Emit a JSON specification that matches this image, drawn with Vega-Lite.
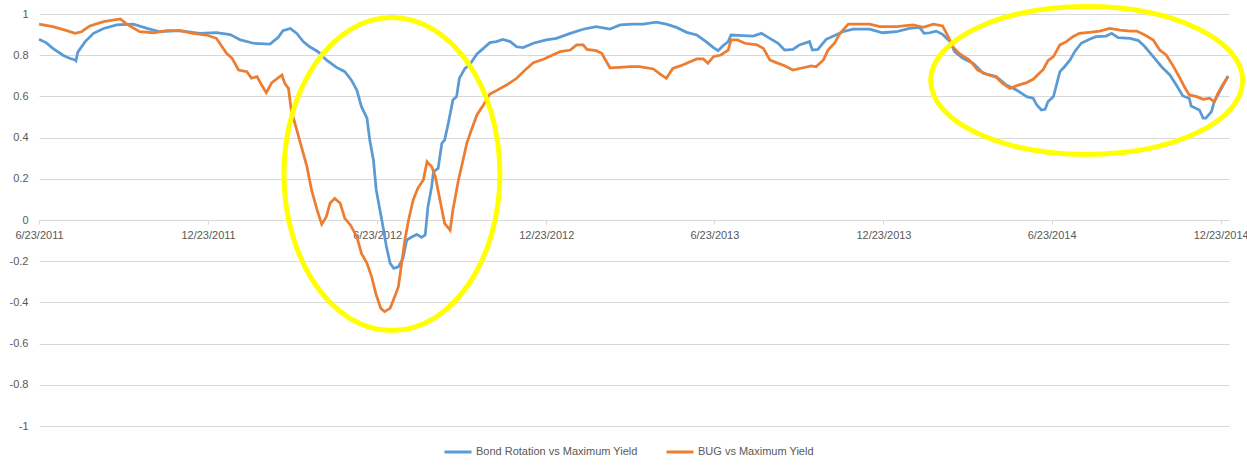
{
  "$schema": "https://vega.github.io/schema/vega-lite/v6.json",
  "autosize": {"type": "none"},
  "padding": {"left": 39, "top": 14, "right": 18, "bottom": 48},
  "width": 1190,
  "height": 412,
  "background": "white",
  "config": {
    "font": "Liberation Sans",
    "view": {"stroke": null},
    "axis": {"labelColor": "#595959", "labelFontSize": 11, "gridColor": "#D9D9D9", "domainColor": "#D9D9D9", "tickColor": "#D9D9D9", "title": null}
  },
  "datasets": {
    "bond": [
      {"date": "2011/06/23", "value": 0.877}, {"date": "2011/07/01", "value": 0.86}, {"date": "2011/07/08", "value": 0.833},
      {"date": "2011/07/19", "value": 0.80}, {"date": "2011/07/26", "value": 0.785}, {"date": "2011/08/01", "value": 0.777},
      {"date": "2011/08/02", "value": 0.773}, {"date": "2011/08/04", "value": 0.815}, {"date": "2011/08/12", "value": 0.866},
      {"date": "2011/08/21", "value": 0.906}, {"date": "2011/09/01", "value": 0.93}, {"date": "2011/09/15", "value": 0.947},
      {"date": "2011/10/03", "value": 0.951}, {"date": "2011/10/18", "value": 0.93}, {"date": "2011/11/01", "value": 0.914},
      {"date": "2011/11/22", "value": 0.919}, {"date": "2011/12/14", "value": 0.906}, {"date": "2012/01/01", "value": 0.909},
      {"date": "2012/01/16", "value": 0.90}, {"date": "2012/01/27", "value": 0.874}, {"date": "2012/02/10", "value": 0.858},
      {"date": "2012/02/28", "value": 0.854}, {"date": "2012/03/08", "value": 0.887}, {"date": "2012/03/13", "value": 0.919},
      {"date": "2012/03/21", "value": 0.93}, {"date": "2012/03/28", "value": 0.906}, {"date": "2012/04/04", "value": 0.866},
      {"date": "2012/04/11", "value": 0.841}, {"date": "2012/04/20", "value": 0.817}, {"date": "2012/04/29", "value": 0.777},
      {"date": "2012/05/10", "value": 0.741}, {"date": "2012/05/19", "value": 0.72}, {"date": "2012/05/26", "value": 0.68},
      {"date": "2012/06/01", "value": 0.631}, {"date": "2012/06/06", "value": 0.55}, {"date": "2012/06/12", "value": 0.494},
      {"date": "2012/06/15", "value": 0.388}, {"date": "2012/06/19", "value": 0.29}, {"date": "2012/06/22", "value": 0.146},
      {"date": "2012/06/26", "value": 0.049}, {"date": "2012/06/30", "value": -0.049}, {"date": "2012/07/03", "value": -0.129},
      {"date": "2012/07/07", "value": -0.21}, {"date": "2012/07/11", "value": -0.235}, {"date": "2012/07/16", "value": -0.227},
      {"date": "2012/07/21", "value": -0.186}, {"date": "2012/07/25", "value": -0.097}, {"date": "2012/07/30", "value": -0.084},
      {"date": "2012/08/05", "value": -0.07}, {"date": "2012/08/10", "value": -0.084}, {"date": "2012/08/14", "value": -0.073},
      {"date": "2012/08/17", "value": 0.065}, {"date": "2012/08/21", "value": 0.162}, {"date": "2012/08/23", "value": 0.235},
      {"date": "2012/08/28", "value": 0.25}, {"date": "2012/09/01", "value": 0.372}, {"date": "2012/09/04", "value": 0.388},
      {"date": "2012/09/08", "value": 0.469}, {"date": "2012/09/13", "value": 0.583}, {"date": "2012/09/17", "value": 0.599},
      {"date": "2012/09/20", "value": 0.688}, {"date": "2012/09/26", "value": 0.736}, {"date": "2012/10/01", "value": 0.752},
      {"date": "2012/10/09", "value": 0.806}, {"date": "2012/10/16", "value": 0.833}, {"date": "2012/10/23", "value": 0.861},
      {"date": "2012/10/30", "value": 0.866}, {"date": "2012/11/06", "value": 0.877}, {"date": "2012/11/14", "value": 0.866},
      {"date": "2012/11/21", "value": 0.841}, {"date": "2012/11/28", "value": 0.837}, {"date": "2012/12/09", "value": 0.858},
      {"date": "2012/12/23", "value": 0.874}, {"date": "2013/01/03", "value": 0.882}, {"date": "2013/01/18", "value": 0.906},
      {"date": "2013/02/01", "value": 0.926}, {"date": "2013/02/15", "value": 0.939}, {"date": "2013/03/02", "value": 0.927},
      {"date": "2013/03/13", "value": 0.947}, {"date": "2013/03/27", "value": 0.951}, {"date": "2013/04/07", "value": 0.951},
      {"date": "2013/04/21", "value": 0.96}, {"date": "2013/05/02", "value": 0.951}, {"date": "2013/05/13", "value": 0.935},
      {"date": "2013/05/24", "value": 0.911}, {"date": "2013/06/04", "value": 0.898}, {"date": "2013/06/14", "value": 0.866},
      {"date": "2013/06/22", "value": 0.837}, {"date": "2013/06/27", "value": 0.822}, {"date": "2013/07/02", "value": 0.845},
      {"date": "2013/07/08", "value": 0.866}, {"date": "2013/07/11", "value": 0.898}, {"date": "2013/07/24", "value": 0.895},
      {"date": "2013/08/04", "value": 0.893}, {"date": "2013/08/13", "value": 0.906}, {"date": "2013/08/22", "value": 0.882},
      {"date": "2013/08/31", "value": 0.858}, {"date": "2013/09/07", "value": 0.825}, {"date": "2013/09/16", "value": 0.828},
      {"date": "2013/09/23", "value": 0.85}, {"date": "2013/10/04", "value": 0.866}, {"date": "2013/10/07", "value": 0.825},
      {"date": "2013/10/13", "value": 0.828}, {"date": "2013/10/22", "value": 0.877}, {"date": "2013/10/30", "value": 0.893},
      {"date": "2013/11/09", "value": 0.914}, {"date": "2013/11/20", "value": 0.926}, {"date": "2013/12/08", "value": 0.926},
      {"date": "2013/12/22", "value": 0.909}, {"date": "2014/01/06", "value": 0.914}, {"date": "2014/01/20", "value": 0.93},
      {"date": "2014/01/31", "value": 0.935}, {"date": "2014/02/05", "value": 0.906}, {"date": "2014/02/11", "value": 0.909},
      {"date": "2014/02/18", "value": 0.917}, {"date": "2014/02/25", "value": 0.901}, {"date": "2014/03/05", "value": 0.866},
      {"date": "2014/03/10", "value": 0.817}, {"date": "2014/03/19", "value": 0.785}, {"date": "2014/03/30", "value": 0.761},
      {"date": "2014/04/10", "value": 0.712}, {"date": "2014/04/24", "value": 0.696}, {"date": "2014/05/05", "value": 0.655},
      {"date": "2014/05/16", "value": 0.631}, {"date": "2014/05/27", "value": 0.599}, {"date": "2014/06/03", "value": 0.591},
      {"date": "2014/06/07", "value": 0.558}, {"date": "2014/06/12", "value": 0.534}, {"date": "2014/06/16", "value": 0.537},
      {"date": "2014/06/19", "value": 0.574}, {"date": "2014/06/25", "value": 0.599}, {"date": "2014/07/02", "value": 0.72},
      {"date": "2014/07/07", "value": 0.744}, {"date": "2014/07/13", "value": 0.777}, {"date": "2014/07/18", "value": 0.817},
      {"date": "2014/07/25", "value": 0.858}, {"date": "2014/08/03", "value": 0.877}, {"date": "2014/08/10", "value": 0.89},
      {"date": "2014/08/21", "value": 0.893}, {"date": "2014/08/27", "value": 0.906}, {"date": "2014/09/03", "value": 0.885},
      {"date": "2014/09/16", "value": 0.882}, {"date": "2014/09/25", "value": 0.871}, {"date": "2014/10/02", "value": 0.841},
      {"date": "2014/10/11", "value": 0.793}, {"date": "2014/10/20", "value": 0.744}, {"date": "2014/10/29", "value": 0.704},
      {"date": "2014/11/05", "value": 0.655}, {"date": "2014/11/12", "value": 0.602}, {"date": "2014/11/19", "value": 0.591},
      {"date": "2014/11/21", "value": 0.553}, {"date": "2014/11/30", "value": 0.534}, {"date": "2014/12/04", "value": 0.494},
      {"date": "2014/12/07", "value": 0.494}, {"date": "2014/12/13", "value": 0.526}, {"date": "2014/12/16", "value": 0.574},
      {"date": "2014/12/22", "value": 0.623}, {"date": "2014/12/31", "value": 0.699}
    ],
    "bug": [
      {"date": "2011/06/23", "value": 0.951}, {"date": "2011/07/08", "value": 0.939}, {"date": "2011/07/23", "value": 0.919},
      {"date": "2011/08/01", "value": 0.906}, {"date": "2011/08/08", "value": 0.914}, {"date": "2011/08/17", "value": 0.942},
      {"date": "2011/09/01", "value": 0.963}, {"date": "2011/09/19", "value": 0.976}, {"date": "2011/09/26", "value": 0.951},
      {"date": "2011/10/10", "value": 0.914}, {"date": "2011/10/25", "value": 0.909}, {"date": "2011/11/08", "value": 0.919},
      {"date": "2011/11/22", "value": 0.919}, {"date": "2011/12/07", "value": 0.906}, {"date": "2011/12/21", "value": 0.898},
      {"date": "2012/01/01", "value": 0.882}, {"date": "2012/01/12", "value": 0.809}, {"date": "2012/01/18", "value": 0.785},
      {"date": "2012/01/25", "value": 0.728}, {"date": "2012/02/03", "value": 0.72}, {"date": "2012/02/08", "value": 0.688},
      {"date": "2012/02/14", "value": 0.696}, {"date": "2012/02/19", "value": 0.655}, {"date": "2012/02/24", "value": 0.618},
      {"date": "2012/03/01", "value": 0.667}, {"date": "2012/03/12", "value": 0.704}, {"date": "2012/03/15", "value": 0.663},
      {"date": "2012/03/19", "value": 0.639}, {"date": "2012/03/22", "value": 0.534}, {"date": "2012/03/28", "value": 0.437},
      {"date": "2012/04/02", "value": 0.356}, {"date": "2012/04/08", "value": 0.259}, {"date": "2012/04/13", "value": 0.146},
      {"date": "2012/04/19", "value": 0.049}, {"date": "2012/04/24", "value": -0.021}, {"date": "2012/04/29", "value": 0.016},
      {"date": "2012/05/03", "value": 0.081}, {"date": "2012/05/08", "value": 0.105}, {"date": "2012/05/14", "value": 0.081},
      {"date": "2012/05/19", "value": 0.008}, {"date": "2012/05/25", "value": -0.024}, {"date": "2012/06/01", "value": -0.081},
      {"date": "2012/06/06", "value": -0.162}, {"date": "2012/06/12", "value": -0.21}, {"date": "2012/06/17", "value": -0.275},
      {"date": "2012/06/22", "value": -0.364}, {"date": "2012/06/27", "value": -0.429}, {"date": "2012/07/01", "value": -0.445},
      {"date": "2012/07/07", "value": -0.429}, {"date": "2012/07/12", "value": -0.372}, {"date": "2012/07/16", "value": -0.324},
      {"date": "2012/07/19", "value": -0.227}, {"date": "2012/07/23", "value": -0.097}, {"date": "2012/07/27", "value": 0.0},
      {"date": "2012/08/01", "value": 0.097}, {"date": "2012/08/06", "value": 0.154}, {"date": "2012/08/12", "value": 0.194},
      {"date": "2012/08/16", "value": 0.283}, {"date": "2012/08/21", "value": 0.259}, {"date": "2012/08/25", "value": 0.21},
      {"date": "2012/08/30", "value": 0.097}, {"date": "2012/09/04", "value": -0.016}, {"date": "2012/09/10", "value": -0.049},
      {"date": "2012/09/13", "value": 0.049}, {"date": "2012/09/19", "value": 0.194}, {"date": "2012/09/24", "value": 0.291},
      {"date": "2012/09/28", "value": 0.372}, {"date": "2012/10/03", "value": 0.437}, {"date": "2012/10/09", "value": 0.51},
      {"date": "2012/10/16", "value": 0.558}, {"date": "2012/10/23", "value": 0.612}, {"date": "2012/10/30", "value": 0.628},
      {"date": "2012/11/10", "value": 0.655}, {"date": "2012/11/21", "value": 0.688}, {"date": "2012/12/02", "value": 0.736},
      {"date": "2012/12/09", "value": 0.764}, {"date": "2012/12/20", "value": 0.78}, {"date": "2012/12/30", "value": 0.801},
      {"date": "2013/01/07", "value": 0.817}, {"date": "2013/01/18", "value": 0.825}, {"date": "2013/01/25", "value": 0.85},
      {"date": "2013/02/01", "value": 0.85}, {"date": "2013/02/05", "value": 0.828}, {"date": "2013/02/15", "value": 0.822},
      {"date": "2013/02/21", "value": 0.809}, {"date": "2013/03/02", "value": 0.739}, {"date": "2013/03/13", "value": 0.741},
      {"date": "2013/03/24", "value": 0.744}, {"date": "2013/04/03", "value": 0.744}, {"date": "2013/04/18", "value": 0.733},
      {"date": "2013/04/25", "value": 0.709}, {"date": "2013/05/02", "value": 0.688}, {"date": "2013/05/09", "value": 0.736},
      {"date": "2013/05/17", "value": 0.748}, {"date": "2013/05/24", "value": 0.761}, {"date": "2013/06/04", "value": 0.782},
      {"date": "2013/06/11", "value": 0.782}, {"date": "2013/06/16", "value": 0.761}, {"date": "2013/06/22", "value": 0.793},
      {"date": "2013/06/30", "value": 0.801}, {"date": "2013/07/08", "value": 0.825}, {"date": "2013/07/11", "value": 0.874},
      {"date": "2013/07/18", "value": 0.874}, {"date": "2013/07/26", "value": 0.858}, {"date": "2013/08/08", "value": 0.85},
      {"date": "2013/08/15", "value": 0.833}, {"date": "2013/08/22", "value": 0.777}, {"date": "2013/08/29", "value": 0.764},
      {"date": "2013/09/07", "value": 0.749}, {"date": "2013/09/16", "value": 0.728}, {"date": "2013/09/27", "value": 0.739},
      {"date": "2013/10/06", "value": 0.748}, {"date": "2013/10/11", "value": 0.744}, {"date": "2013/10/19", "value": 0.777},
      {"date": "2013/10/24", "value": 0.825}, {"date": "2013/10/31", "value": 0.858}, {"date": "2013/11/06", "value": 0.906},
      {"date": "2013/11/15", "value": 0.951}, {"date": "2013/12/08", "value": 0.951}, {"date": "2013/12/19", "value": 0.939},
      {"date": "2014/01/06", "value": 0.939}, {"date": "2014/01/24", "value": 0.947}, {"date": "2014/02/04", "value": 0.935},
      {"date": "2014/02/15", "value": 0.951}, {"date": "2014/02/25", "value": 0.942}, {"date": "2014/03/03", "value": 0.89},
      {"date": "2014/03/08", "value": 0.841}, {"date": "2014/03/15", "value": 0.809}, {"date": "2014/03/26", "value": 0.777},
      {"date": "2014/04/04", "value": 0.728}, {"date": "2014/04/13", "value": 0.709}, {"date": "2014/04/24", "value": 0.693},
      {"date": "2014/05/01", "value": 0.663}, {"date": "2014/05/09", "value": 0.639}, {"date": "2014/05/18", "value": 0.655},
      {"date": "2014/05/27", "value": 0.667}, {"date": "2014/06/03", "value": 0.683}, {"date": "2014/06/08", "value": 0.705},
      {"date": "2014/06/14", "value": 0.731}, {"date": "2014/06/19", "value": 0.773}, {"date": "2014/06/25", "value": 0.793},
      {"date": "2014/07/02", "value": 0.85}, {"date": "2014/07/09", "value": 0.866}, {"date": "2014/07/16", "value": 0.89},
      {"date": "2014/07/23", "value": 0.906}, {"date": "2014/08/03", "value": 0.911}, {"date": "2014/08/14", "value": 0.917},
      {"date": "2014/08/25", "value": 0.93}, {"date": "2014/09/05", "value": 0.922}, {"date": "2014/09/16", "value": 0.917},
      {"date": "2014/09/23", "value": 0.917}, {"date": "2014/10/02", "value": 0.898}, {"date": "2014/10/11", "value": 0.874},
      {"date": "2014/10/18", "value": 0.825}, {"date": "2014/10/25", "value": 0.801}, {"date": "2014/11/01", "value": 0.752},
      {"date": "2014/11/09", "value": 0.688}, {"date": "2014/11/14", "value": 0.644}, {"date": "2014/11/19", "value": 0.607},
      {"date": "2014/11/27", "value": 0.599}, {"date": "2014/12/04", "value": 0.586}, {"date": "2014/12/11", "value": 0.591},
      {"date": "2014/12/16", "value": 0.574}, {"date": "2014/12/20", "value": 0.615}, {"date": "2014/12/25", "value": 0.655},
      {"date": "2014/12/31", "value": 0.696}
    ]
  },
  "encoding": {
    "x": {
      "field": "date",
      "type": "temporal",
      "scale": {"domain": [{"year": 2011, "month": 6, "date": 23}, {"year": 2015, "month": 1, "date": 1}]},
      "axis": {
        "values": [
          {"year": 2011, "month": 6, "date": 23}, {"year": 2011, "month": 12, "date": 23},
          {"year": 2012, "month": 6, "date": 23}, {"year": 2012, "month": 12, "date": 23},
          {"year": 2013, "month": 6, "date": 23}, {"year": 2013, "month": 12, "date": 23},
          {"year": 2014, "month": 6, "date": 23}, {"year": 2014, "month": 12, "date": 23}
        ],
        "format": "%-m/%-d/%Y",
        "offset": -206,
        "grid": false,
        "tickSize": 4,
        "labelPadding": 5,
        "labelFlush": false,
        "labelOverlap": false,
        "labelBound": false
      }
    },
    "y": {
      "field": "value",
      "type": "quantitative",
      "scale": {"domain": [-1, 1], "nice": false},
      "axis": {
        "values": [-1, -0.8, -0.6, -0.4, -0.2, 0, 0.2, 0.4, 0.6, 0.8, 1],
        "labelExpr": "'' + datum.value",
        "domain": false,
        "ticks": false,
        "tickSize": 0,
        "labelPadding": 11
      }
    }
  },
  "layer": [
    {
      "data": {"name": "bond"},
      "mark": {"type": "line", "strokeWidth": 2.75, "interpolate": "linear"},
      "encoding": {
        "color": {
          "datum": "Bond Rotation vs Maximum Yield",
          "type": "nominal",
          "scale": {"domain": ["Bond Rotation vs Maximum Yield", "BUG vs Maximum Yield"], "range": ["#5B9BD5", "#ED7D31"]},
          "legend": {
            "title": null,
            "orient": "none",
            "direction": "horizontal",
            "legendX": 404,
            "legendY": 423,
            "symbolType": "stroke",
            "symbolSize": 729,
            "symbolStrokeWidth": 3,
            "labelFontSize": 11,
            "labelColor": "#595959",
            "labelLimit": 0,
            "labelOffset": 3,
            "columnPadding": 22
          }
        }
      }
    },
    {
      "data": {"name": "bug"},
      "mark": {"type": "line", "strokeWidth": 2.75, "interpolate": "linear"},
      "encoding": {
        "color": {"datum": "BUG vs Maximum Yield", "type": "nominal"}
      }
    },
    {
      "data": {"values": [{"date": "2012/07/09", "value": 0.223}]},
      "mark": {
        "type": "point",
        "shape": "M0.69,0C0.69,0.552,0.381,1,0,1C-0.381,1,-0.69,0.552,-0.69,0C-0.69,-0.552,-0.381,-1,0,-1C0.381,-1,0.69,-0.552,0.69,0Z",
        "size": 97969,
        "filled": false,
        "stroke": "#FFFF00",
        "color": "#FFFF00",
        "strokeWidth": 5,
        "opacity": 1
      }
    },
    {
      "data": {"values": [{"date": "2014/07/31", "value": 0.677}]},
      "mark": {
        "type": "point",
        "shape": "M1,0C1,0.262,0.552,0.474,0,0.474C-0.552,0.474,-1,0.262,-1,0C-1,-0.262,-0.552,-0.474,0,-0.474C0.552,-0.474,1,-0.262,1,0Z",
        "size": 97344,
        "filled": false,
        "stroke": "#FFFF00",
        "color": "#FFFF00",
        "strokeWidth": 5,
        "opacity": 1
      }
    }
  ]
}
